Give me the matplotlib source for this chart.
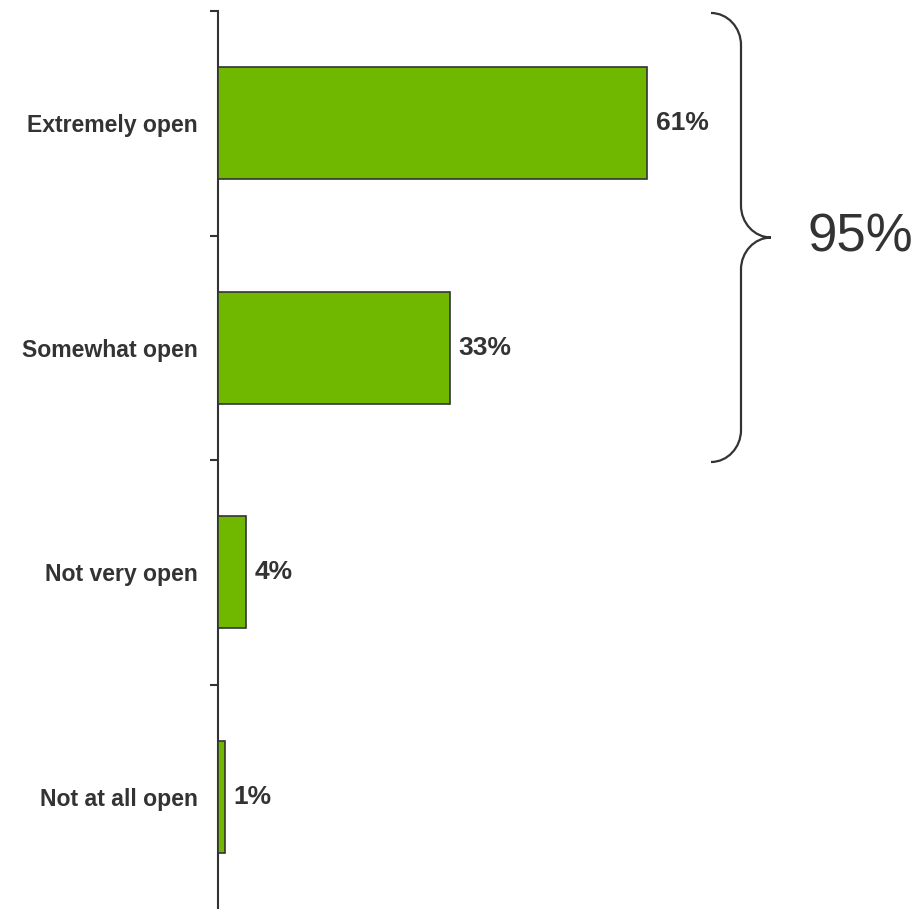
import matplotlib
matplotlib.use("Agg")
import matplotlib.pyplot as plt
from matplotlib.path import Path
from matplotlib.patches import PathPatch
import numpy as np

categories = ["Extremely open", "Somewhat open", "Not very open", "Not at all open"]
values = [61, 33, 4, 1]
value_labels = ["61%", "33%", "4%", "1%"]
bracket_label = "95%"
bracket_span = (0, 1)  # categories covered by the brace

plt.rcParams['font.family'] = ['Liberation Sans', 'DejaVu Sans']

DPI = 100
W, H = 924, 909
fig = plt.figure(figsize=(W / DPI, H / DPI), dpi=DPI)

ax_left, ax_top, ax_bottom = 218, 11, 909
xmax = 100
px_per_unit = 7.04
ax_right = ax_left + xmax * px_per_unit
ax = fig.add_axes([ax_left / W, (H - ax_bottom) / H, (ax_right - ax_left) / W, (ax_bottom - ax_top) / H])

text_col = "#333333"
bar_col = "#70B800"
edge_col = "#333333"

y = np.arange(len(categories))
ax.barh(y, values, height=0.5, color=bar_col, edgecolor=edge_col, linewidth=1.2, zorder=3)

ax.set_xlim(0, xmax)
ax.set_ylim(len(categories) - 0.5, -0.5)

for s in ["top", "right", "bottom"]:
    ax.spines[s].set_visible(False)
ax.spines["left"].set_color(edge_col)
ax.spines["left"].set_linewidth(1.5)
ax.set_xticks([])

ax.set_yticks(y)
ax.set_yticklabels(categories, fontsize=16.6, fontweight="bold", color=text_col)
ax.tick_params(axis="y", which="major", length=0, pad=14.5)
ax.set_yticks(np.arange(-0.5, len(categories) - 0.5, 1), minor=True)
ax.tick_params(axis="y", which="minor", length=6, width=1.5, color=edge_col, direction="out")

for yi, v, lab in zip(y, values, value_labels):
    ax.annotate(lab, xy=(v, yi), xytext=(6, 0), textcoords="offset points",
                ha="left", va="center", fontsize=19, fontweight="bold", color=text_col)

# Brace drawn in display (pixel) coordinates, anchored to the data extents
fig.canvas.draw()
T = ax.transData
_, y_top = T.transform((0, bracket_span[0] - 0.5))
_, y_bot = T.transform((0, bracket_span[1] + 0.5))
y_top -= 2
y_bot -= 2
x0 = 711
w = 30
xv = x0 + w
xt = xv + w
ym = (y_top + y_bot) / 2
r = 32
k = 0.55
verts = [
    (x0, y_top), (x0 + w * k, y_top), (xv, y_top - r * (1 - k)), (xv, y_top - r),
    (xv, ym + r),
    (xv, ym + r * (1 - k)), (xt - w * k, ym), (xt, ym),
    (xt - w * k, ym), (xv, ym - r * (1 - k)), (xv, ym - r),
    (xv, y_bot + r),
    (xv, y_bot + r * (1 - k)), (x0 + w * k, y_bot), (x0, y_bot),
]
codes = [Path.MOVETO, Path.CURVE4, Path.CURVE4, Path.CURVE4,
         Path.LINETO,
         Path.CURVE4, Path.CURVE4, Path.CURVE4,
         Path.CURVE4, Path.CURVE4, Path.CURVE4,
         Path.LINETO,
         Path.CURVE4, Path.CURVE4, Path.CURVE4]
patch = PathPatch(Path(verts, codes), facecolor="none", edgecolor=edge_col,
                  linewidth=1.6, transform=None, clip_on=False)
fig.add_artist(patch)
fig.text((xt + 36) / W, ym / H, bracket_label, ha="left", va="center",
         fontsize=38, color=text_col)

fig.savefig("out.png", dpi=DPI)
